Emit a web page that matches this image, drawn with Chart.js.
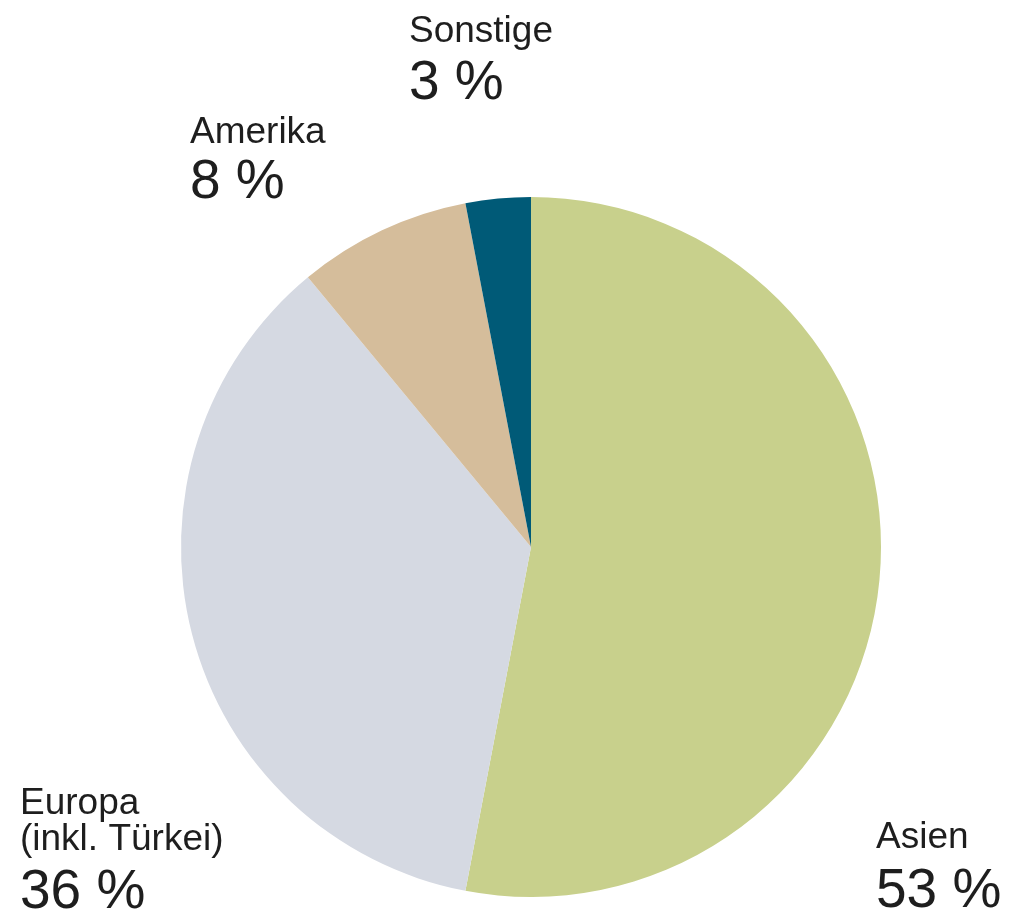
<!DOCTYPE html>
<html>
<head>
<meta charset="utf-8">
<script src="https://cdn.jsdelivr.net/npm/chart.js@4/dist/chart.umd.min.js"></script>
<style>
  body { margin: 0; background: #fff; }
  canvas { display: block; }
</style>
</head>
<body>
<canvas id="myChart" width="1010" height="914"></canvas>
<script>
'use strict';

// ******* DATA *******
let regions = ['Asien', 'Europa', 'Amerika', 'Sonstige'];
let shares = [53, 36, 8, 3];
let sliceColors = ['#c8d08c', '#d5d9e2', '#d5bd9b', '#005a77'];

// label text lines per region (name lines, then value)
let nameLines = [['Asien'], ['Europa', '(inkl. Türkei)'], ['Amerika'], ['Sonstige']];

// ******* LABEL LAYOUT *******
// x, baseline of last name line, baseline of value line
let labelPos = [
  { x: 876, nameY: 848, valueY: 907 },
  { x: 20, nameY: 850, valueY: 908 },
  { x: 190, nameY: 143, valueY: 198 },
  { x: 409, nameY: 42, valueY: 99 }
];

let outsideLabels = {
  id: 'outsideLabels',
  afterDraw(chart) {
    let ctx = chart.ctx;
    ctx.save();
    ctx.fillStyle = '#1e1e1e';
    ctx.textAlign = 'left';
    ctx.textBaseline = 'alphabetic';
    for (let i = 0; i < regions.length; i++) {
      let pos = labelPos[i];
      let lines = nameLines[i];
      ctx.font = '37px "Liberation Sans", Arial, sans-serif';
      for (let j = 0; j < lines.length; j++) {
        let y = pos.nameY - (lines.length - 1 - j) * 36;
        ctx.fillText(lines[j], pos.x, y);
      }
      ctx.font = '55px "Liberation Sans", Arial, sans-serif';
      ctx.fillText(shares[i] + ' %', pos.x, pos.valueY);
    }
    ctx.restore();
  }
};

let canvasElem = document.getElementById('myChart').getContext('2d');

new Chart(canvasElem, {
  type: 'pie',
  data: {
    labels: regions,
    datasets: [{
      data: shares,
      backgroundColor: sliceColors,
      borderWidth: 0
    }]
  },
  options: {
    responsive: false,
    animation: false,
    layout: {
      padding: { left: 181, right: 129, top: 197, bottom: 17 }
    },
    plugins: {
      legend: { display: false },
      tooltip: { enabled: false }
    }
  },
  plugins: [outsideLabels]
});
</script>
</body>
</html>
